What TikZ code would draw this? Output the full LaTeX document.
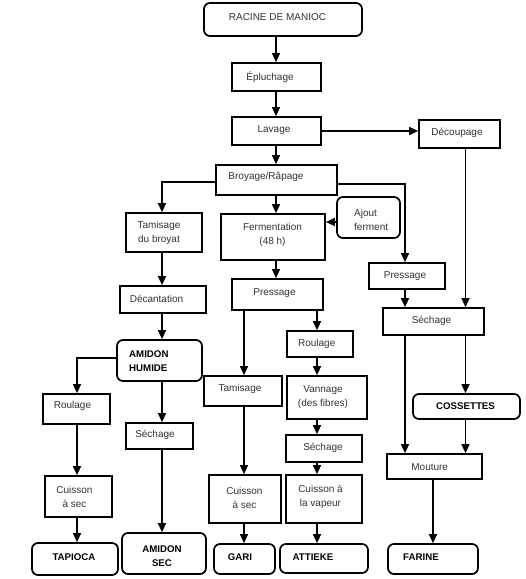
\documentclass[tikz,border=0pt]{standalone}
\usepackage{fontspec}
\setmainfont{Liberation Sans}
\usetikzlibrary{arrows.meta}
\definecolor{txt}{HTML}{333333}
\begin{document}
\begin{tikzpicture}[x=1pt,y=-1pt,
  bx/.style={draw=black, line width=1.7pt, inner sep=0pt},
  rbx/.style={bx, rounded corners=6pt},
  tx/.style={text=txt, font=\fontsize{10}{14}\selectfont, align=center, inner sep=0pt},
  bt/.style={text=black, font=\fontsize{9.7}{14}\selectfont\bfseries, align=center, inner sep=0pt},
  arr/.style={line width=1.4pt, -{Triangle[length=9pt,width=8pt]}}]
\useasboundingbox[fill=white] (0,0) rectangle (526,579);

% boxes
\node[rbx, minimum width=158pt, minimum height=33pt] (racine) at (283,19.5) {};
\node[bx, minimum width=89pt, minimum height=28pt] (epl) at (276.5,77) {};
\node[bx, minimum width=89pt, minimum height=28pt] (lav) at (276.5,131) {};
\node[bx, minimum width=81pt, minimum height=28pt] (dec) at (459.5,134) {};
\node[bx, minimum width=121pt, minimum height=30pt] (broy) at (276.5,180) {};
\node[bx, minimum width=76pt, minimum height=39pt] (tamb) at (164,232.5) {};
\node[bx, minimum width=104pt, minimum height=46pt] (ferm) at (273,237) {};
\node[rbx, minimum width=63pt, minimum height=41pt] (ajout) at (368.5,217.5) {};
\node[bx, minimum width=76pt, minimum height=26pt] (pressR) at (407,276) {};
\node[bx, minimum width=86pt, minimum height=27pt] (decant) at (163,299.5) {};
\node[bx, minimum width=91pt, minimum height=31pt] (pressM) at (277.5,294.5) {};
\node[bx, minimum width=101pt, minimum height=27pt] (sechR) at (433.5,321.5) {};
\node[bx, minimum width=66pt, minimum height=26pt] (roulM) at (320,344) {};
\node[rbx, minimum width=85pt, minimum height=41pt] (amh) at (159.5,360.5) {};
\node[bx, minimum width=78pt, minimum height=30pt] (tamM) at (243,391) {};
\node[bx, minimum width=80pt, minimum height=43pt] (vann) at (327,397.5) {};
\node[bx, minimum width=67pt, minimum height=30pt] (roulL) at (76.5,409) {};
\node[bx, minimum width=67pt, minimum height=26pt] (sechL) at (159.5,436) {};
\node[rbx, minimum width=107pt, minimum height=25pt] (coss) at (466.5,406.5) {};
\node[bx, minimum width=76pt, minimum height=27pt] (sechM) at (324,448.5) {};
\node[bx, minimum width=95pt, minimum height=25pt] (mout) at (434.5,466.5) {};
\node[bx, minimum width=67pt, minimum height=41pt] (cuisL) at (78.5,496.5) {};
\node[bx, minimum width=72pt, minimum height=48pt] (cuisM) at (245,499) {};
\node[bx, minimum width=76pt, minimum height=48pt] (cuisV) at (324,499) {};
\node[rbx, minimum width=86pt, minimum height=32pt] (tap) at (75,559) {};
\node[rbx, minimum width=84pt, minimum height=41pt] (amsec) at (164,553.5) {};
\node[rbx, minimum width=61pt, minimum height=30pt] (gari) at (244.5,559) {};
\node[rbx, minimum width=88pt, minimum height=29pt] (att) at (324,558.5) {};
\node[rbx, minimum width=90pt, minimum height=30pt] (far) at (433,559) {};

% texts
\node[tx] (t-racine) at (277.5,17) {RACINE DE MANIOC};
\node[tx] (t-epl) at (270,77) {Épluchage};
\node[tx] (t-lav) at (274,130) {Lavage};
\node[tx] (t-dec) at (457,132.5) {Découpage};
\node[tx] (t-broy) at (266,177) {Broyage/Râpage};
\node[tx] (t-tamb) at (159,233) {Tamisage\\du broyat};
\node[tx] (t-ferm) at (272.5,234.5) {Fermentation\\(48 h)};
\node[tx, align=left, anchor=west] (t-ajout) at (354,219.5) {Ajout\\ferment};
\node[tx] (t-pressR) at (405,276) {Pressage};
\node[tx] (t-decant) at (156.5,298.5) {Décantation};
\node[tx] (t-pressM) at (274.5,293) {Pressage};
\node[tx] (t-sechR) at (431.5,321) {Séchage};
\node[tx] (t-roulM) at (316.7,343.5) {Roulage};
\node[bt, align=left, anchor=west] (t-amh) at (129,361) {AMIDON\\HUMIDE};
\node[tx] (t-tamM) at (240,389) {Tamisage};
\node[tx] (t-vann) at (323,397) {Vannage\\(des fibres)};
\node[tx] (t-roulL) at (72.5,406) {Roulage};
\node[tx] (t-sechL) at (155,435) {Séchage};
\node[bt] (t-coss) at (465.5,405.7) {COSSETTES};
\node[tx] (t-sechM) at (323,448) {Séchage};
\node[tx] (t-mout) at (429.7,467) {Mouture};
\node[tx] (t-cuisL) at (74.5,497) {Cuisson\\à sec};
\node[tx] (t-cuisM) at (244.5,497.5) {Cuisson\\à sec};
\node[tx] (t-cuisV) at (320.5,497) {Cuisson à\\la vapeur};
\node[bt] (t-tap) at (74,557) {TAPIOCA};
\node[bt] (t-amsec) at (162,556) {AMIDON\\SEC};
\node[bt] (t-gari) at (240,557) {GARI};
\node[bt] (t-att) at (313,557) {ATTIEKE};
\node[bt] (t-far) at (421,557) {FARINE};

% connector columns
\coordinate (xc) at (276,0);
\coordinate (xl) at (77,0);
\coordinate (xa) at (162,0);
\coordinate (xg) at (244,0);
\coordinate (xm) at (317,0);
\coordinate (xr) at (405,0);
\coordinate (xd) at (465.5,0);

% connectors
\draw[arr] (xc |- racine.south) -- (xc |- epl.north);
\draw[arr] (xc |- epl.south) -- (xc |- lav.north);
\draw[arr] (xc |- lav.south) -- (xc |- broy.north);
\draw[arr] (lav.east) -- (lav.east -| dec.west);
\draw[arr] (xd |- dec.south) -- (xd |- sechR.north);
\draw[arr] ([yshift=-2pt]broy.west) -| (xa |- tamb.north);
\draw[arr] ([yshift=-4pt]broy.east) -| (xr |- pressR.north);
\draw[arr] (xc |- broy.south) -- (xc |- ferm.north);
\draw[arr] ([yshift=-4.5pt]ajout.west) -- ([yshift=-4.5pt]ajout.west -| ferm.east);
\draw[arr] (xc |- ferm.south) -- (xc |- pressM.north);
\draw[arr] (xa |- tamb.south) -- (xa |- decant.north);
\draw[arr] (xa |- decant.south) -- (xa |- amh.north);
\draw[arr] ([yshift=2.5pt]amh.west) -| (xl |- roulL.north);
\draw[arr] (xa |- amh.south) -- (xa |- sechL.north);
\draw[arr] (xa |- sechL.south) -- (xa |- amsec.north);
\draw[arr] (xl |- roulL.south) -- (xl |- cuisL.north);
\draw[arr] (xl |- cuisL.south) -- (xl |- tap.north);
\draw[arr] (xg |- pressM.south) -- (xg |- tamM.north);
\draw[arr] (xg |- tamM.south) -- (xg |- cuisM.north);
\draw[arr] (xg |- cuisM.south) -- (xg |- gari.north);
\draw[arr] (xm |- pressM.south) -- (xm |- roulM.north);
\draw[arr] (xm |- roulM.south) -- (xm |- vann.north);
\draw[arr] (xm |- vann.south) -- (xm |- sechM.north);
\draw[arr] (xm |- sechM.south) -- (xm |- cuisV.north);
\draw[arr] (xm |- cuisV.south) -- (xm |- att.north);
\draw[arr] (xr |- pressR.south) -- (xr |- sechR.north);
\draw[arr] (xr |- sechR.south) -- (xr |- mout.north);
\draw[arr] (xd |- sechR.south) -- (xd |- coss.north);
\draw[arr] (xd |- coss.south) -- (xd |- mout.north);
\draw[arr] (mout.south -| far.north) -- (far.north);
\end{tikzpicture}
\end{document}
